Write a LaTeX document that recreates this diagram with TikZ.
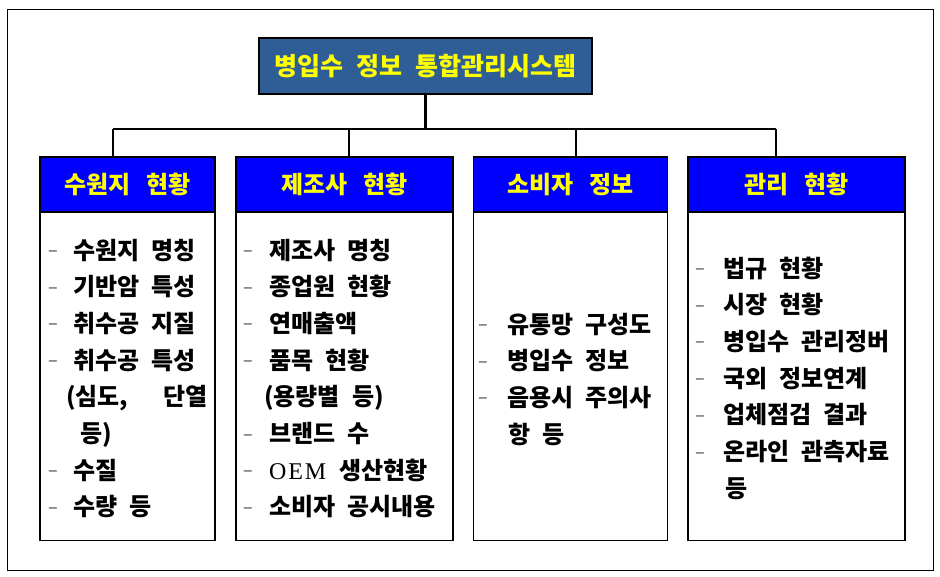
\documentclass[tikz,border=0pt]{standalone}
\usepackage{fontspec}
\setmainfont{Liberation Serif}
\newfontfamily\kr{Noto Sans CJK KR}[WordSpace=2.2]
\definecolor{titlebg}{RGB}{47,94,150}
\definecolor{hdrtext}{RGB}{255,255,0}
\newcommand\dsh[1]{\makebox[#1][l]{\raisebox{2.5pt}{\mdseries\fontsize{18}{20}\selectfont\color{black!75}–}}}
\newcommand\hsp{\hspace{4pt}}
\tikzset{
 framebox/.style={draw, line width=1.2pt, inner sep=0, anchor=north west},
 titlebox/.style={draw, fill=titlebg, line width=1.5pt, minimum width=333pt, minimum height=56pt, inner sep=0, text=hdrtext, font=\kr\bfseries\fontsize{25}{28}\selectfont},
 hdr/.style={draw, fill=blue, line width=1.2pt, minimum height=55pt, inner sep=0, text=hdrtext, font=\kr\bfseries\fontsize{24}{27}\selectfont},
 bodybox/.style={draw, line width=1.2pt, minimum height=328pt, inner sep=0, anchor=north},
 item/.style={anchor=base west, inner sep=0, font=\kr\bfseries\fontsize{24}{27}\selectfont},
 conn/.style={line width=2.5pt}
}
\begin{document}
\begin{tikzpicture}[x=1pt,y=-1pt]
\useasboundingbox (0,0) rectangle (940,576);
\node[framebox, minimum width=926pt, minimum height=561pt] (frame) at (7,9) {};
\node[titlebox] (title) at (425.5,66) {병입수 정보 통합관리시스템};
% headers
\node[hdr, minimum width=175pt] (h1) at (127.5,184.5) {수원지 \hsp{}현황};
\node[hdr, minimum width=217pt] (h2) at (344.5,184.5) {제조사 \hsp{}현황};
\node[hdr, minimum width=194pt] (h3) at (570.5,184.5) {소비자 \hsp{}정보};
\node[hdr, minimum width=217pt] (h4) at (796.5,184.5) {관리 \hsp{}현황};
% bodies
\node[bodybox, minimum width=175pt] (b1) at (127.5,212) {};
\node[bodybox, minimum width=217pt] (b2) at (344.5,212) {};
\node[bodybox, minimum width=194pt] (b3) at (570.5,212) {};
\node[bodybox, minimum width=217pt] (b4) at (796.5,212) {};
% connectors
\coordinate (d1) at (113,129);
\coordinate (d2) at (349,129);
\coordinate (d3) at (576,129);
\coordinate (d4) at (776,129);
\draw[conn] (title.south) -- (title.south |- d1);
\draw[conn] (d1) -- (d4);
\draw[conn] (d1) -- (d1 |- h1.north);
\draw[conn] (d2) -- (d2 |- h2.north);
\draw[conn] (d3) -- (d3 |- h3.north);
\draw[conn] (d4) -- (d4 |- h4.north);
% column 1
\node[item] (a1) at (48,259) {\dsh{25pt}수원지 명칭};
\node[item] (a2) at (48,295.7) {\dsh{25pt}기반암 특성};
\node[item] (a3) at (48,332.4) {\dsh{25pt}취수공 지질};
\node[item] (a4) at (48,369.1) {\dsh{25pt}취수공 특성};
\node[item] (a5) at (66,405.8) {\makebox[141pt][s]{(심도,\hfill 단열}};
\node[item] (a6) at (80,442.5) {등)};
\node[item] (a7) at (48,479.2) {\dsh{25pt}수질};
\node[item] (a8) at (48,515.9) {\dsh{25pt}수량 등};
% column 2
\node[item] (c1) at (243,259) {\dsh{26pt}제조사 명칭};
\node[item] (c2) at (243,295.7) {\dsh{26pt}종업원 현황};
\node[item] (c3) at (243,332.4) {\dsh{26pt}연매출액};
\node[item] (c4) at (243,369.1) {\dsh{26pt}품목 현황};
\node[item] (c5) at (264,405.8) {(용량별 등)};
\node[item] (c6) at (243,442.5) {\dsh{26pt}브랜드 수};
\node[item] (c7) at (243,479.2) {\dsh{26pt}{\rmfamily\mdseries\makebox[57pt][s]{O\hfill E\hfill M}}\hspace{13pt}생산현황};
\node[item] (c8) at (243,515.9) {\dsh{26pt}소비자 공시내용};
% column 3
\node[item] (e1) at (478,333) {\dsh{29pt}유통망 구성도};
\node[item] (e2) at (478,369.7) {\dsh{29pt}병입수 정보};
\node[item] (e3) at (478,406.4) {\dsh{29pt}음용시 주의사};
\node[item] (e4) at (508,443.1) {항 등};
% column 4
\node[item] (f1) at (695,277) {\dsh{28pt}법규 현황};
\node[item] (f2) at (695,313.7) {\dsh{28pt}시장 현황};
\node[item] (f3) at (695,350.4) {\dsh{28pt}병입수 관리정버};
\node[item] (f4) at (695,387.1) {\dsh{28pt}국외 정보연계};
\node[item] (f5) at (695,423.8) {\dsh{28pt}업체점검 결과};
\node[item] (f6) at (695,460.5) {\dsh{28pt}온라인 관측자료};
\node[item] (f7) at (725,497.2) {등};
\end{tikzpicture}
\end{document}
